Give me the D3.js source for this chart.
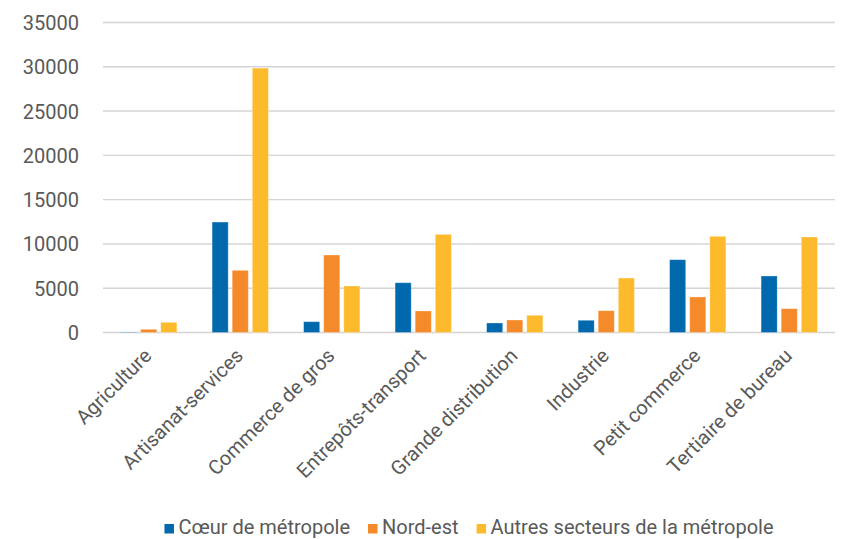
<!DOCTYPE html>
<html>
<head>
<meta charset="utf-8">
<script src="https://cdn.jsdelivr.net/npm/d3@7"></script>
<style>
  html, body { margin: 0; padding: 0; background: #fff; }
  svg { display: block; font-family: Roboto, "Noto Sans", sans-serif; }
</style>
</head>
<body>
<svg id="chart" width="841" height="539"></svg>
<script>
// Activity sectors along the x axis
const categories = [
  "Agriculture", "Artisanat-services", "Commerce de gros", "Entrepôts-transport",
  "Grande distribution", "Industrie", "Petit commerce", "Tertiaire de bureau"
];
// Series names (legend order)
const seriesNames = ["Cœur de métropole", "Nord-est", "Autres secteurs de la métropole"];
// Values per series, one per sector
const coeur  = [40, 12470, 1220, 5620, 1070, 1380, 8220, 6380];
const nordEst = [360, 7020, 8750, 2430, 1410, 2460, 4010, 2690];
const autres = [1150, 29850, 5250, 11080, 1940, 6150, 10860, 10780];
const seriesValues = [coeur, nordEst, autres];
const seriesColors = ["#0069AD", "#F58A2A", "#FDBA2C"];
// Y axis ticks
const yTicks = [0, 5000, 10000, 15000, 20000, 25000, 30000, 35000];

const svg = d3.select("#chart");
const plot = { left: 103, right: 835, top: 22.5, bottom: 332.5 };
const textColor = "#595959";

const y = d3.scaleLinear().domain([0, 35000]).range([plot.bottom, plot.top]);
const x0 = d3.scaleBand().domain(categories).range([plot.left, plot.right])
  .paddingInner(0.385).paddingOuter(0.1925);
const x1 = d3.scaleBand().domain(seriesNames).range([0, x0.bandwidth()]).paddingInner(0.2);

// Horizontal gridlines
svg.append("g").selectAll("line").data(yTicks).join("line")
  .attr("x1", plot.left).attr("x2", plot.right)
  .attr("y1", d => y(d)).attr("y2", d => y(d))
  .attr("stroke", "#d4d4d4").attr("stroke-width", 1.4);

// Y axis labels
const yAxis = d3.axisLeft(y).tickValues(yTicks).tickSize(0).tickPadding(0).tickFormat(d3.format("d"));
const yg = svg.append("g").attr("transform", "translate(79,0)").call(yAxis);
yg.select(".domain").remove();
yg.selectAll("text").attr("fill", textColor).attr("font-size", 20)
  .attr("font-family", "Roboto, sans-serif").attr("dy", "0.35em");

// Bars
const rows = categories.map((c, i) => ({ cat: c, vals: seriesNames.map((s, k) => ({ s, v: seriesValues[k][i], k })) }));
svg.append("g").selectAll("g").data(rows).join("g")
  .attr("transform", d => `translate(${x0(d.cat)},0)`)
  .selectAll("rect").data(d => d.vals).join("rect")
  .attr("x", d => x1(d.s))
  .attr("width", x1.bandwidth())
  .attr("y", d => y(d.v))
  .attr("height", d => y(0) - y(d.v))
  .attr("fill", d => seriesColors[d.k])
  .attr("stroke", "#ffffff").attr("stroke-opacity", 0.35).attr("stroke-width", 0.8);

// Rotated category labels
svg.append("g").selectAll("text").data(categories).join("text")
  .attr("transform", d => `translate(${x0(d) + x0.bandwidth() / 2 + 4},${plot.bottom + 24.5}) rotate(-45)`)
  .attr("text-anchor", "end")
  .attr("fill", textColor).attr("font-size", 20)
  .text(d => d);

// Legend, centred under the plot
const legend = svg.append("g");
const items = legend.selectAll("g").data(seriesNames).join("g");
items.append("rect").attr("width", 9.5).attr("height", 9.5).attr("y", -10)
  .attr("fill", (d, i) => seriesColors[i]);
items.append("text").attr("x", 14).attr("fill", textColor).attr("font-size", 20).text(d => d);
let offset = 0;
items.each(function () {
  const g = d3.select(this);
  g.attr("transform", `translate(${offset},0)`);
  offset += 14 + g.select("text").node().getComputedTextLength() + 18;
});
const total = offset - 18;
legend.attr("transform", `translate(${(plot.left + plot.right) / 2 - total / 2},534)`);
</script>
</body>
</html>
